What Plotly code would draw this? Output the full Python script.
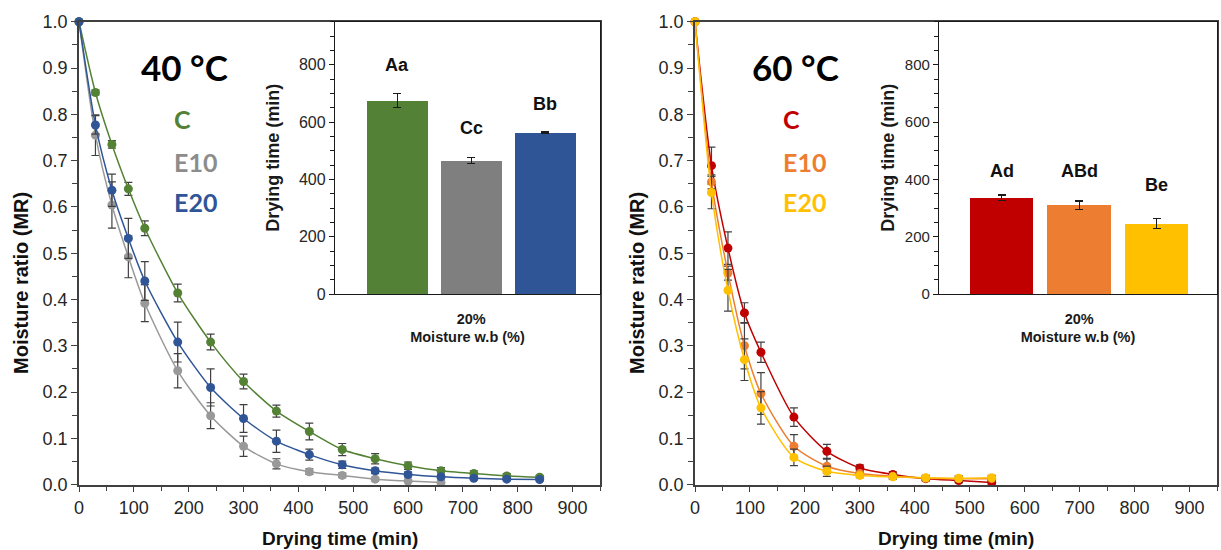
import plotly.graph_objects as go

# ---------------- data ----------------
t40 = [0, 30, 60, 90, 120, 180, 240, 300, 360, 420, 480, 540, 600, 660, 720, 780, 840]
c40 = [1.0, 0.847, 0.735, 0.639, 0.554, 0.414, 0.308, 0.223, 0.159, 0.115, 0.076, 0.056, 0.041, 0.030, 0.024, 0.019, 0.016]
c40_err = [0, 0.005, 0.008, 0.014, 0.016, 0.019, 0.017, 0.016, 0.013, 0.018, 0.013, 0.011, 0.008, 0.007, 0.006, 0.005, 0.004]
e20_40 = [1.0, 0.777, 0.636, 0.532, 0.440, 0.308, 0.210, 0.143, 0.094, 0.065, 0.043, 0.030, 0.022, 0.017, 0.014, 0.012, 0.011]
e20_40_err = [0, 0.02, 0.035, 0.043, 0.042, 0.043, 0.04, 0.03, 0.024, 0.012, 0.008, 0.006, 0.005, 0.004, 0.003, 0.003, 0.003]
t40_e10 = [0, 30, 60, 90, 120, 180, 240, 300, 360, 420, 480, 540, 600, 660]
e10_40 = [1.0, 0.755, 0.604, 0.492, 0.392, 0.246, 0.149, 0.083, 0.045, 0.028, 0.020, 0.012, 0.008, 0.005]
e10_40_err = [0, 0.044, 0.05, 0.045, 0.04, 0.037, 0.028, 0.022, 0.011, 0.006, 0.005, 0.004, 0.003, 0.003]

t60 = [0, 30, 60, 90, 120, 180, 240, 300, 360, 420, 480, 540]
c60 = [1.0, 0.689, 0.511, 0.371, 0.286, 0.146, 0.072, 0.036, 0.022, 0.013, 0.009, 0.005]
c60_err = [0, 0.04, 0.035, 0.022, 0.022, 0.02, 0.015, 0.007, 0.006, 0.005, 0.005, 0.005]
e10_60 = [1.0, 0.654, 0.457, 0.300, 0.197, 0.083, 0.040, 0.024, 0.018, 0.014, 0.013, 0.013]
e10_60_err = [0, 0.015, 0.015, 0.05, 0.045, 0.025, 0.015, 0.006, 0.005, 0.005, 0.005, 0.005]
e20_60 = [1.0, 0.631, 0.420, 0.270, 0.166, 0.059, 0.029, 0.020, 0.017, 0.015, 0.014, 0.015]
e20_60_err = [0, 0.035, 0.045, 0.045, 0.035, 0.018, 0.011, 0.005, 0.005, 0.005, 0.005, 0.005]

bar_pos = [-1, 0, 1]
bar40 = [675, 466, 563]
bar40_err = [24, 11, 2]
bar40_lbl = ["Aa", "Cc", "Bb"]
bar40_lbl_y = [800, 580, 663]
bar60 = [335, 310, 246]
bar60_err = [10, 14, 18]
bar60_lbl = ["Ad", "ABd", "Be"]
bar60_lbl_y = [430, 430, 380]

series_names = ["C", "E10", "E20"]
col40 = ["#548235", "#8c8c8c", "#2f5597"]
col60 = ["#c00000", "#ed7d31", "#ffc000"]

W, H = 1221, 550
def px_x(p): return p / W
def px_y(p): return (H - p) / H

ERR = dict(color="#404040", thickness=1.2, width=4)
fig = go.Figure()

def add_series(x, y, err, color, xa, ya):
    fig.add_trace(go.Scatter(
        x=x, y=y, mode="lines+markers", xaxis=xa, yaxis=ya,
        line=dict(color=color, width=1.5, shape="spline", smoothing=0.7),
        marker=dict(color=color, size=9),
        error_y=dict(type="data", array=err, visible=True, **ERR),
        showlegend=False, cliponaxis=False))

add_series(t40_e10, e10_40, e10_40_err, "#999999", "x", "y")
add_series(t40, c40, c40_err, col40[0], "x", "y")
add_series(t40, e20_40, e20_40_err, col40[2], "x", "y")
add_series(t60, c60, c60_err, col60[0], "x2", "y2")
add_series(t60, e10_60, e10_60_err, col60[1], "x2", "y2")
add_series(t60, e20_60, e20_60_err, col60[2], "x2", "y2")

fig.add_trace(go.Bar(x=bar_pos, y=bar40, marker=dict(color=["#538135", "#7f7f7f", "#2f5597"], line_width=0),
                     width=0.82, xaxis="x3", yaxis="y3", showlegend=False,
                     error_y=dict(type="data", array=bar40_err, color="#1a1a1a", thickness=1.3, width=4)))
fig.add_trace(go.Bar(x=bar_pos, y=bar60, marker=dict(color=["#c00000", "#ed7d31", "#ffc000"], line_width=0),
                     width=0.82, xaxis="x4", yaxis="y4", showlegend=False,
                     error_y=dict(type="data", array=bar60_err, color="#1a1a1a", thickness=1.3, width=4)))

TICKF = dict(family="Liberation Sans, Arial", size=18, color="#262626")
LINE = dict(showline=True, linecolor="#404040", linewidth=1.5, mirror=True, showgrid=False,
            zeroline=False, automargin=False)

main_y_dom = [px_y(484.7), px_y(21.7)]
for i, (x0, x1) in enumerate([(79, 600), (695, 1217)]):
    s = "" if i == 0 else "2"
    fig.update_layout(**{
        "xaxis" + s: dict(domain=[px_x(x0), px_x(x1)], range=[0, 950], anchor="y" + s,
                          tickmode="linear", tick0=0, dtick=100, ticks="outside", ticklen=6,
                          tickcolor="#404040", tickfont=TICKF,
                          minor=dict(dtick=50, ticks="outside", ticklen=5, tickcolor="#404040"),
                          **LINE),
        "yaxis" + s: dict(domain=main_y_dom, range=[0, 1.0], anchor="x" + s,
                          tickmode="linear", tick0=0, dtick=0.1, tickformat=".1f",
                          ticks="outside", ticklen=6, tickcolor="#404040", tickfont=TICKF,
                          minor=dict(dtick=0.05, ticks="outside", ticklen=5, tickcolor="#404040"),
                          **LINE),
    })

inset_y_dom = [px_y(294), px_y(21.7)]
for s, (x0, x1), rng, tfs, ystand in [("3", (335, 600), [-1.84, 1.74], 16, 14),
                                      ("4", (939, 1217), [-1.81, 1.78], 15, 5)]:
    fig.update_layout(**{
        "xaxis" + s: dict(domain=[px_x(x0), px_x(x1)], range=rng, anchor="y" + s,
                          tickvals=[0], ticktext=["<b>20%</b>"], ticks="", ticklabelstandoff=11,
                          tickfont=dict(family="Liberation Sans, Arial", size=14.5, color="#1a1a1a"),
                          title=dict(text="<b>Moisture w.b (%)</b>", standoff=6,
                                     font=dict(family="Liberation Sans, Arial", size=14.5, color="#1a1a1a")),
                          showline=True, linecolor="#1a1a1a", linewidth=1.3, mirror=True,
                          showgrid=False, zeroline=False, automargin=False),
        "yaxis" + s: dict(domain=inset_y_dom, range=[0, 950], anchor="x" + s,
                          tickmode="linear", tick0=0, dtick=200, ticks="outside", ticklen=5,
                          tickcolor="#1a1a1a",
                          tickfont=dict(family="Liberation Sans, Arial", size=tfs, color="#262626"),
                          minor=dict(dtick=50, ticks="outside", ticklen=4, tickcolor="#1a1a1a"),
                          title=dict(text="<b>Drying time (min)</b>", standoff=ystand,
                                     font=dict(family="Liberation Sans, Arial", size=18, color="#1a1a1a")),
                          showline=True, linecolor="#1a1a1a", linewidth=1.3, mirror=True,
                          showgrid=False, zeroline=False, automargin=False),
    })

ann = []
TITLEF = dict(family="Liberation Sans, Arial", size=20, color="#111111")
for xc in [21, 637]:
    ann.append(dict(x=px_x(xc), y=px_y(283), xref="paper", yref="paper", text="<b>Moisture ratio (MR)</b>",
                    textangle=-90, showarrow=False, font=TITLEF, xanchor="center", yanchor="middle"))
for xc in [340, 956]:
    ann.append(dict(x=px_x(xc), y=px_y(538), xref="paper", yref="paper", text="<b>Drying time (min)</b>",
                    showarrow=False, font=dict(family="Liberation Sans, Arial", size=19, color="#111111"),
                    xanchor="center", yanchor="middle"))
CAL = "Lato, Open Sans, sans-serif"
ann.append(dict(x=px_x(184), y=px_y(67), xref="paper", yref="paper", text="<b>40 °C</b>", showarrow=False,
                font=dict(family=CAL, size=35, color="#000000"), xanchor="center", yanchor="middle"))
ann.append(dict(x=px_x(796), y=px_y(67), xref="paper", yref="paper", text="<b>60 °C</b>", showarrow=False,
                font=dict(family=CAL, size=35, color="#000000"), xanchor="center", yanchor="middle"))
for x_left, cols in [(172, col40), (781, col60)]:
    for name, c, yc in zip(series_names, cols, [119, 162, 202]):
        ann.append(dict(x=px_x(x_left), y=px_y(yc), xref="paper", yref="paper", text="<b>%s</b>" % name,
                        showarrow=False, font=dict(family=CAL, size=25, color=c),
                        xanchor="left", yanchor="middle"))
for s, lbls, ys in [("3", bar40_lbl, bar40_lbl_y), ("4", bar60_lbl, bar60_lbl_y)]:
    for xp, l, yv in zip(bar_pos, lbls, ys):
        ann.append(dict(x=xp, y=yv, xref="x" + s, yref="y" + s, text="<b>%s</b>" % l, showarrow=False,
                        font=dict(family="Liberation Sans, Arial", size=18, color="#111111"),
                        xanchor="center", yanchor="middle"))

fig.update_layout(width=W, height=H, margin=dict(l=0, r=0, t=0, b=0, autoexpand=False),
                  paper_bgcolor="white", plot_bgcolor="white", annotations=ann,
                  showlegend=False, bargap=0)

fig.write_html("out.html")
